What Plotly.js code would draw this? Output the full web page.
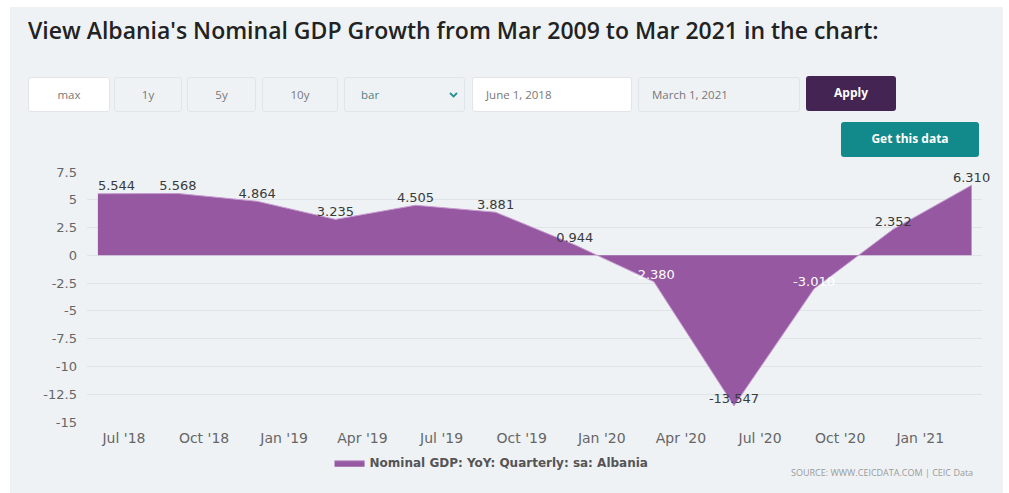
<!DOCTYPE html>
<html>
<head>
<meta charset="utf-8">
<script src="https://cdn.plot.ly/plotly-3.0.1.min.js"></script>
<style>
  html, body { margin:0; padding:0; background:#ffffff; width:1009px; height:493px; overflow:hidden; }
  #panel { position:absolute; left:10px; top:7px; width:993px; height:486px; background:#eef2f5; }
  #chart { position:absolute; left:0; top:0; width:1009px; height:493px; }
  .ctl { position:absolute; top:77px; height:35px; box-sizing:border-box; border:1px solid #e1e5ea; border-radius:3px;
         font-family:"Open Sans", sans-serif; font-size:11.5px; color:#777; line-height:33px; z-index:5; }
  .btn { text-align:center; background:#eff2f5; }
  .inp { background:#ffffff; padding-left:13px; }
  .dark { border:none; color:#fff; font-weight:700; text-align:center; font-size:12px; }
</style>
</head>
<body>
<div id="panel"></div>
<div id="chart"></div>
<div class="ctl btn" style="left:28px;width:82px;background:#ffffff;">max</div>
<div class="ctl btn" style="left:114px;width:68px;">1y</div>
<div class="ctl btn" style="left:187px;width:69px;">5y</div>
<div class="ctl btn" style="left:262px;width:76px;">10y</div>
<div class="ctl btn" style="left:344px;width:121px;text-align:left;padding-left:16px;color:#4f7f86;">bar
  <svg style="position:absolute;left:104px;top:14px" width="9" height="6"><polyline points="1,1 4.5,4.5 8,1" fill="none" stroke="#2a8f95" stroke-width="1.8"/></svg></div>
<div class="ctl inp" style="left:472px;width:160px;">June 1, 2018</div>
<div class="ctl inp" style="left:638px;width:162px;background:#eff2f5;">March 1, 2021</div>
<div class="ctl dark" style="left:806px;top:76px;width:90px;background:#432452;">Apply</div>
<div class="ctl dark" style="left:841px;top:122px;width:138px;background:#12898a;">Get this data</div>
<script>
// Albania Nominal GDP YoY, quarterly, sa (%)
const dates = ['2018-06-01','2018-09-01','2018-12-01','2019-03-01','2019-06-01','2019-09-01',
               '2019-12-01','2020-03-01','2020-06-01','2020-09-01','2020-12-01','2021-03-01'];
const values = [5.544, 5.568, 4.864, 3.235, 4.505, 3.881, 0.944, -2.380, -13.547, -3.010, 2.352, 6.310];
const labels = ['5.544','5.568','4.864','3.235','4.505','3.881','0.944','-2.380','-13.547','-3.010','2.352','6.310'];
const labelColors = ['#3a3a3a','#3a3a3a','#3a3a3a','#3a3a3a','#3a3a3a','#3a3a3a','#3a3a3a','#ffffff','#3a3a3a','#ffffff','#3a3a3a','#3a3a3a'];
const labelPositions = ['top right','top center','top center','top center','top center','top center',
                        'top center','top center','top center','top center','top center','top center'];
const xTickVals = ['2018-07-01','2018-10-01','2019-01-01','2019-04-01','2019-07-01','2019-10-01',
                   '2020-01-01','2020-04-01','2020-07-01','2020-10-01','2021-01-01'];
const xTickText = ["Jul '18","Oct '18","Jan '19","Apr '19","Jul '19","Oct '19",
                   "Jan '20","Apr '20","Jul '20","Oct '20","Jan '21"];
const yTickVals = [7.5, 5, 2.5, 0, -2.5, -5, -7.5, -10, -12.5, -15];
const yTickText = ['7.5','5','2.5','0','-2.5','-5','-7.5','-10','-12.5','-15'];
const seriesName = 'Nominal GDP: YoY: Quarterly: sa: Albania';

const trace = {
  x: dates, y: values, type: 'scatter', mode: 'lines+text',
  name: seriesName,
  fill: 'tozeroy', fillcolor: '#9558a1',
  line: {color: '#c79bd0', width: 1},
  text: labels, textposition: labelPositions, cliponaxis: false,
  textfont: {family: 'DejaVu Sans', size: 13, color: labelColors},
  hoverinfo: 'x+y'
};

const layout = {
  width: 1009, height: 493,
  paper_bgcolor: 'rgba(0,0,0,0)', plot_bgcolor: 'rgba(0,0,0,0)',
  margin: {l: 87, r: 27, t: 172, b: 71, pad: 0},
  title: {text: "View Albania's Nominal GDP Growth from Mar 2009 to Mar 2021 in the chart:",
          x: 28/1009, xanchor: 'left', xref: 'container', y: 1 - 31/493, yanchor: 'middle', yref: 'container',
          font: {family: 'Open Sans', size: 23, weight: 600, color: '#222'}},
  xaxis: {type: 'date', range: ['2018-05-19 12:00', '2021-03-13'],
          tickvals: xTickVals, ticktext: xTickText, showgrid: false, zeroline: false,
          showline: false, ticks: '', ticklabelstandoff: 6,
          tickfont: {family: 'DejaVu Sans', size: 14, color: '#666'}},
  yaxis: {range: [-15, 7.5], tickvals: yTickVals, ticktext: yTickText,
          showgrid: true, gridcolor: '#dfe4e9', gridwidth: 1, zeroline: false, showline: false,
          ticks: '', ticklabelstandoff: 9,
          tickfont: {family: 'DejaVu Sans', size: 13, color: '#666'}},
  showlegend: true,
  legend: {orientation: 'h', x: 0.452, xanchor: 'center', y: -0.105, yanchor: 'top',
           font: {family: 'DejaVu Sans', size: 12, weight: 700, color: '#555'}, bgcolor: 'rgba(0,0,0,0)'},
  annotations: [{text: 'SOURCE: WWW.CEICDATA.COM | CEIC Data', xref: 'paper', yref: 'paper',
                 x: (975-87)/895, xanchor: 'right', y: -(472-422)/250, yanchor: 'middle', showarrow: false,
                 font: {family: 'Open Sans', size: 9, color: '#9a9a9a'}}]
};

Plotly.newPlot('chart', [trace], layout, {displayModeBar: false, staticPlot: true});
</script>
</body>
</html>
